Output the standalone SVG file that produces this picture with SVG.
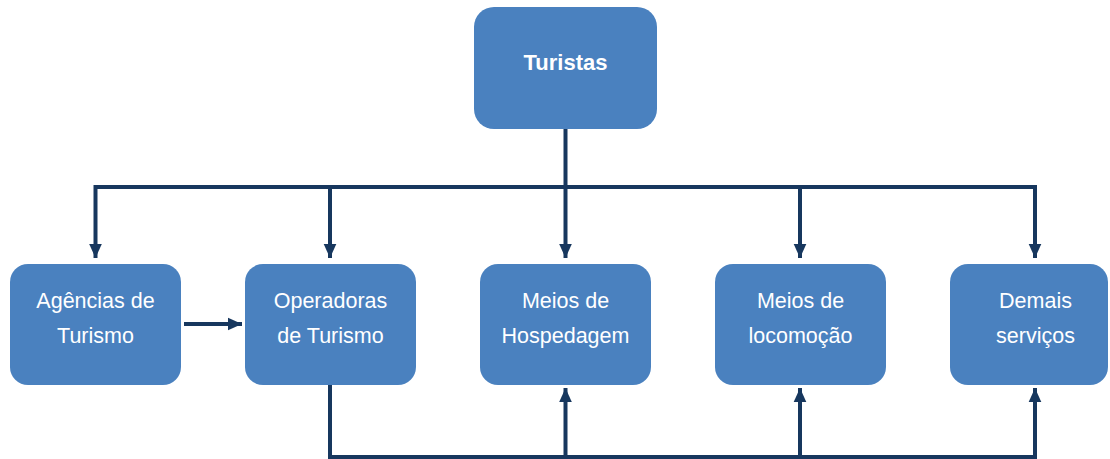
<svg xmlns="http://www.w3.org/2000/svg" width="1110" height="459" viewBox="0 0 1110 459">
<style>
.box{fill:#4A81BF;}
.t{font-family:"Liberation Sans",Arial,sans-serif;font-size:21.5px;fill:#FFFFFF;text-anchor:middle;}
.b{font-weight:bold;font-size:22px;}
.c{fill:none;stroke:#17375E;stroke-width:4;}
</style>
<defs>
<marker id="ah" viewBox="0 0 10 10" refX="10" refY="5" markerWidth="14" markerHeight="14" markerUnits="userSpaceOnUse" orient="auto">
<path d="M0,0.5 L10,5 L0,9.5 Z" fill="#17375E"/>
</marker>
</defs>
<rect width="1110" height="459" fill="#FFFFFF"/>
<g id="connectors">
<path class="c" d="M565.5,129 V187"/>
<path class="c" d="M95.5,187 H1035"/>
<path class="c" d="M95.5,185 V258" marker-end="url(#ah)"/>
<path class="c" d="M330,187 V258" marker-end="url(#ah)"/>
<path class="c" d="M565.5,187 V258" marker-end="url(#ah)"/>
<path class="c" d="M800,187 V258" marker-end="url(#ah)"/>
<path class="c" d="M1035,185 V258" marker-end="url(#ah)"/>
<path class="c" d="M184,324 H242" marker-end="url(#ah)"/>
<path class="c" d="M330,385 V457 H1035"/>
<path class="c" d="M565.5,457 V388" marker-end="url(#ah)"/>
<path class="c" d="M800,457 V388" marker-end="url(#ah)"/>
<path class="c" d="M1035,459 V388" marker-end="url(#ah)"/>
</g>
<g id="turistas">
<rect class="box" x="474" y="7" width="183" height="122" rx="20"/>
<text class="t b" x="565.5" y="70">Turistas</text>
</g>
<g id="agencias">
<rect class="box" x="10" y="264" width="171" height="121" rx="18"/>
<text class="t" x="95.5" y="308">Agências de</text>
<text class="t" x="95.5" y="343">Turismo</text>
</g>
<g id="operadoras">
<rect class="box" x="245" y="264" width="171" height="121" rx="18"/>
<text class="t" x="330.5" y="308">Operadoras</text>
<text class="t" x="330.5" y="343">de Turismo</text>
</g>
<g id="hospedagem">
<rect class="box" x="480" y="264" width="171" height="121" rx="18"/>
<text class="t" x="565.5" y="308">Meios de</text>
<text class="t" x="565.5" y="343">Hospedagem</text>
</g>
<g id="locomocao">
<rect class="box" x="715" y="264" width="171" height="121" rx="18"/>
<text class="t" x="800.5" y="308">Meios de</text>
<text class="t" x="800.5" y="343">locomoção</text>
</g>
<g id="demais">
<rect class="box" x="950" y="264" width="158" height="121" rx="18"/>
<text class="t" x="1035.5" y="308">Demais</text>
<text class="t" x="1035.5" y="343">serviços</text>
</g>
</svg>
